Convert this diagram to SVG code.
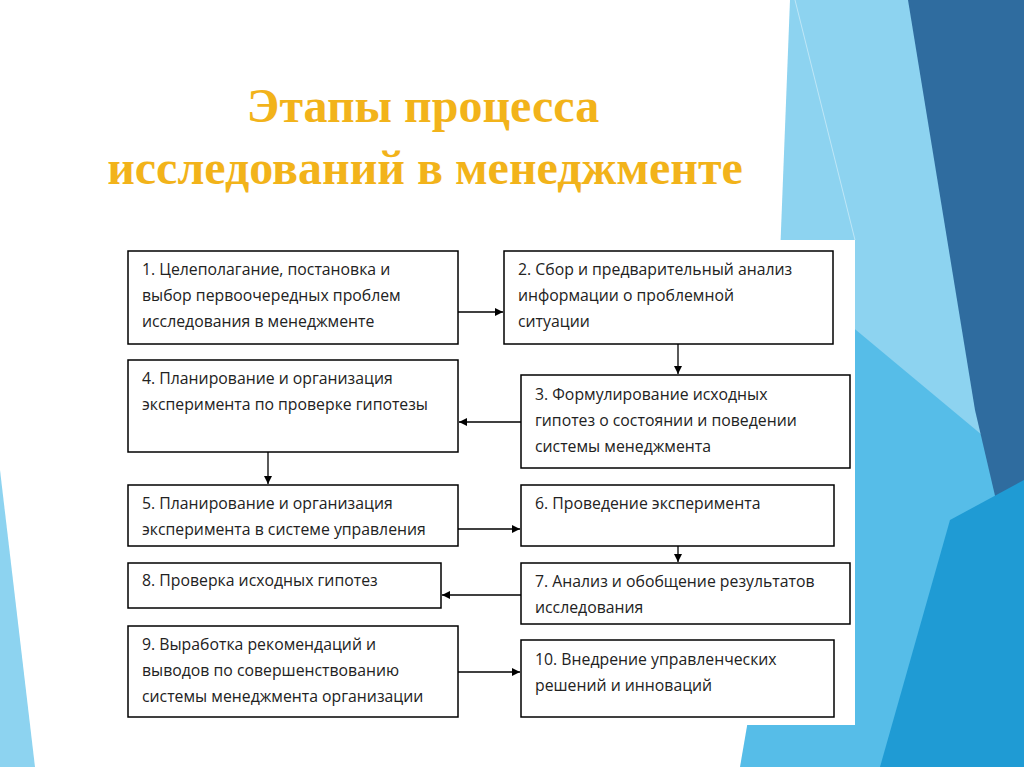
<svg xmlns="http://www.w3.org/2000/svg" width="1024" height="767" viewBox="0 0 1024 767">
<defs>
<style>
.b{fill:#fff;stroke:#000;stroke-width:1.5}
.t{font-family:"Open Sans","Liberation Sans",sans-serif;font-size:15.8px;fill:#222}
.c{stroke:#000;stroke-width:1.3;fill:none;marker-end:url(#a)}
.h{font-family:"Liberation Serif",serif;font-weight:bold;font-size:48px;fill:#f2b31a;text-anchor:middle}
</style>
<marker id="a" viewBox="0 0 10 10" refX="10" refY="5" markerWidth="8" markerHeight="8" orient="auto" markerUnits="userSpaceOnUse"><path d="M0,0L10,5L0,10z" fill="#000"/></marker>
</defs>
<rect width="1024" height="767" fill="#fff"/>
<g id="bg">
<polygon points="790,0 1024,0 1024,767 760,767" fill="#8dd3f0"/>
<polygon points="820,300 1024,470 1024,767 740,767" fill="#56bde8"/>
<polygon points="908,0 1024,0 1024,620 975,410" fill="#2f6c9f"/>
<polygon points="950,520 1024,480 1024,767 880,767" fill="#1f9bd4"/>
<polygon points="0,470 35,767 0,767" fill="#8dd3f0"/>
<polygon points="100,240 855,240 855,725 100,725" fill="#fff"/>
<line x1="795" y1="0" x2="855" y2="240" stroke="#bfe6f6" stroke-width="1"/>
</g>
<text class="h" x="423" y="122">Этапы процесса</text>
<text class="h" x="425" y="184">исследований в менеджменте</text>
<g id="n1"><rect class="b" x="128" y="251" width="330" height="93"/><text class="t" x="142" y="275">1. Целеполагание, постановка и</text><text class="t" x="142" y="301">выбор первоочередных проблем</text><text class="t" x="142" y="327">исследования в менеджменте</text></g>
<g id="n2"><rect class="b" x="504" y="251" width="329" height="93"/><text class="t" x="518" y="275">2. Сбор и предварительный анализ</text><text class="t" x="518" y="301">информации о проблемной</text><text class="t" x="518" y="327">ситуации</text></g>
<g id="n4"><rect class="b" x="128" y="360" width="330" height="92"/><text class="t" x="142" y="384">4. Планирование и организация</text><text class="t" x="142" y="410">эксперимента по проверке гипотезы</text></g>
<g id="n3"><rect class="b" x="521" y="375" width="329" height="93"/><text class="t" x="535" y="400">3. Формулирование исходных</text><text class="t" x="535" y="426">гипотез о состоянии и поведении</text><text class="t" x="535" y="452">системы менеджмента</text></g>
<g id="n5"><rect class="b" x="128" y="485" width="330" height="61"/><text class="t" x="142" y="509">5. Планирование и организация</text><text class="t" x="142" y="535">эксперимента в системе управления</text></g>
<g id="n6"><rect class="b" x="521" y="485" width="313" height="61"/><text class="t" x="535" y="509">6. Проведение эксперимента</text></g>
<g id="n8"><rect class="b" x="128" y="563" width="313" height="45"/><text class="t" x="142" y="586">8. Проверка исходных гипотез</text></g>
<g id="n7"><rect class="b" x="521" y="563" width="329" height="61"/><text class="t" x="535" y="587">7. Анализ и обобщение результатов</text><text class="t" x="535" y="613">исследования</text></g>
<g id="n9"><rect class="b" x="128" y="626" width="330" height="91"/><text class="t" x="142" y="650">9. Выработка рекомендаций и</text><text class="t" x="142" y="676">выводов по совершенствованию</text><text class="t" x="142" y="702">системы менеджмента организации</text></g>
<g id="n10"><rect class="b" x="521" y="640" width="313" height="77"/><text class="t" x="535" y="665">10. Внедрение управленческих</text><text class="t" x="535" y="691">решений и инноваций</text></g>
<g id="connectors">
<line class="c" x1="458" y1="312" x2="503" y2="312"/>
<line class="c" x1="678" y1="344" x2="678" y2="374"/>
<line class="c" x1="521" y1="422" x2="459" y2="422"/>
<line class="c" x1="268" y1="452" x2="268" y2="484"/>
<line class="c" x1="458" y1="529" x2="520" y2="529"/>
<line class="c" x1="678" y1="546" x2="678" y2="562"/>
<line class="c" x1="521" y1="595" x2="442" y2="595"/>
<line class="c" x1="458" y1="672" x2="520" y2="672"/>
</g>
</svg>
